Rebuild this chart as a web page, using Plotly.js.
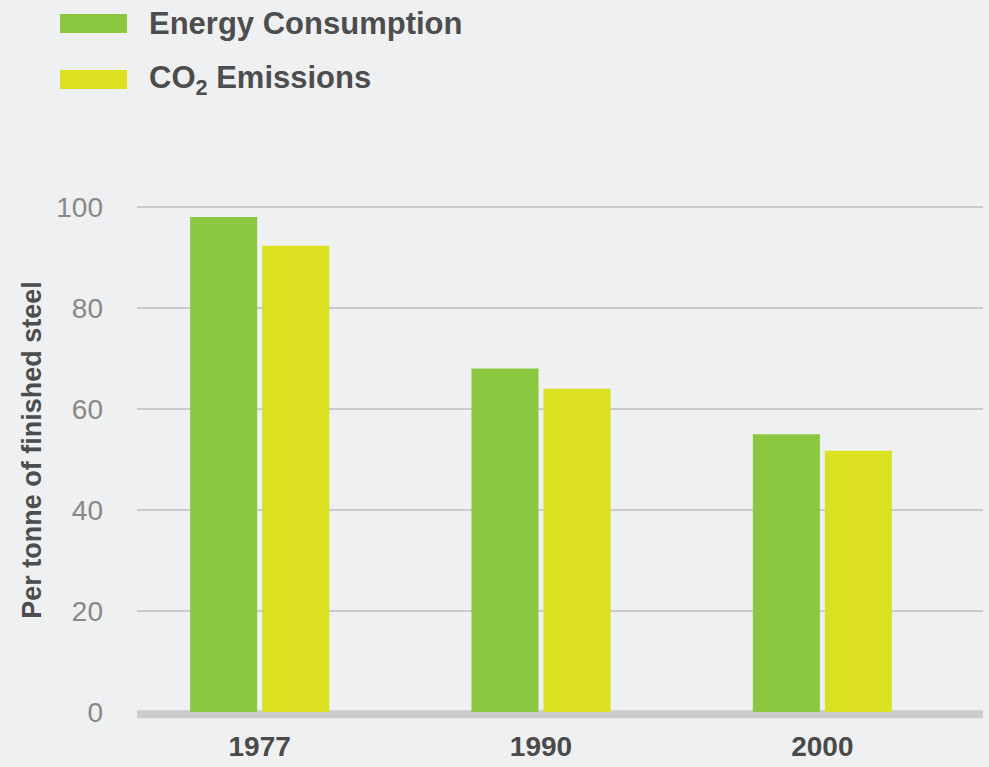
<!DOCTYPE html>
<html>
<head>
<meta charset="utf-8">
<script src="https://cdn.plot.ly/plotly-3.0.1.min.js"></script>
<style>
  html, body { margin: 0; padding: 0; background: #eff0f2; }
  #chart { width: 989px; height: 767px; }
</style>
</head>
<body>
<div id="chart"></div>
<script>
const years = ['1977', '1990', '2000'];
const seriesNames = ['Energy Consumption', 'CO<sub>2</sub> Emissions'];
const energyValues = [98, 68, 55];
const co2Values = [92.3, 64, 51.7];
const yTickValues = [0, 20, 40, 60, 80, 100];
const yTitle = 'Per tonne of finished steel';

const colors = ['#8cc83f', '#d9e121'];
const FONT = 'Liberation Sans, Arial, Helvetica, sans-serif';

const traces = [
  { type: 'bar', x: years, y: energyValues, name: seriesNames[0],
    marker: { color: colors[0], line: { width: 0 } }, hoverinfo: 'skip' },
  { type: 'bar', x: years, y: co2Values, name: seriesNames[1],
    marker: { color: colors[1], line: { width: 0 } }, hoverinfo: 'skip' }
];

// custom legend (large swatches)
const legendRowsY = [1.29, 1.186];
const shapes = [
  { type: 'line', xref: 'paper', yref: 'y', x0: 0, x1: 1, y0: -0.45, y1: -0.45,
    line: { color: '#cbcbcb', width: 8 }, layer: 'below' }
];
const annotations = [];
seriesNames.forEach((nm, i) => {
  shapes.push({ type: 'rect', xref: 'paper', yref: 'paper',
    x0: -0.091, x1: -0.0118, y0: legendRowsY[i] - 0.0176, y1: legendRowsY[i] + 0.0176,
    fillcolor: colors[i], line: { width: 0 } });
  annotations.push({ xref: 'paper', yref: 'paper', x: 0.0118, y: legendRowsY[i],
    xanchor: 'left', yanchor: 'middle', showarrow: false, text: '<b>' + nm + '</b>',
    font: { family: FONT, size: 31, color: '#4d4d4d' } });
});

const layout = {
  width: 989, height: 767,
  paper_bgcolor: '#eff0f2', plot_bgcolor: '#eff0f2',
  margin: { l: 137, r: 6, t: 180, b: 47 },
  showlegend: false,
  barmode: 'group', bargap: 0.488, bargroupgap: 0.069,
  font: { family: FONT },
  xaxis: {
    type: 'category', range: [-0.436, 2.571],
    showgrid: false, zeroline: false, showline: false, ticks: '',
    tickfont: { family: FONT, size: 28, color: '#4a4a4a', weight: 'bold' },
    ticklabelstandoff: 7
  },
  yaxis: {
    range: [-1.58, 105.3], tickvals: yTickValues,
    showgrid: true, gridcolor: '#cbcbcb', gridwidth: 2,
    zeroline: false, showline: false, ticks: '',
    tickfont: { family: FONT, size: 28, color: '#888888' },
    ticklabelstandoff: 33,
    title: { text: '<b>' + yTitle + '</b>', standoff: 6,
      font: { family: FONT, size: 27, color: '#4d4d4d' } }
  },
  shapes: shapes,
  annotations: annotations
};

Plotly.newPlot('chart', traces, layout, { displayModeBar: false, staticPlot: true });
</script>
</body>
</html>
